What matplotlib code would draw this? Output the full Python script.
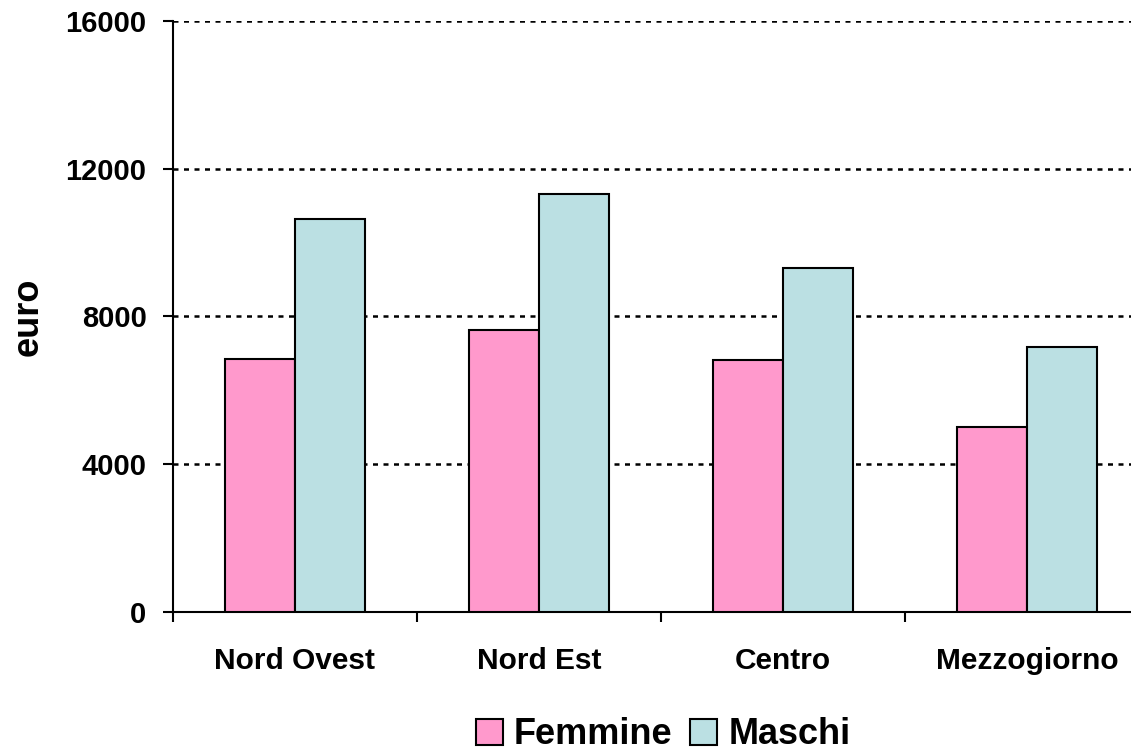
import matplotlib
matplotlib.use('Agg')
import matplotlib.pyplot as plt
import numpy as np

# values (euro)
regioni = ['Nord Ovest', 'Nord Est', 'Centro', 'Mezzogiorno']
femmine = [6850, 7630, 6820, 5010]
maschi = [10640, 11310, 9310, 7170]
yticks = [0, 4000, 8000, 12000, 16000]

plt.rcParams['font.family'] = ['Liberation Sans', 'DejaVu Sans']
plt.rcParams['font.weight'] = 'bold'

fig = plt.figure(figsize=(11.31, 7.51), dpi=100)
# axes runs a little past the right edge, as in the original
ax = fig.add_axes([173 / 1131, 1 - 612 / 751, (1149 - 173) / 1131, (612 - 20.7) / 751])

x = np.arange(len(regioni))
w = 70 / 244.0
ax.bar(x - w / 2, femmine, w, color='#FF99CC', edgecolor='black', linewidth=1.5,
       label='Femmine', zorder=3)
ax.bar(x + w / 2, maschi, w, color='#BBE0E3', edgecolor='black', linewidth=1.5,
       label='Maschi', zorder=3)

ax.set_xlim(-0.5, len(regioni) - 0.5)
ax.set_ylim(0, 16000)
ax.set_yticks(yticks)
ax.set_yticklabels([str(v) for v in yticks], fontsize=21, fontweight='bold')
ax.set_xticks(x)
ax.set_xticklabels(regioni, fontsize=21.5, fontweight='bold')
# category separators as ticks on the x axis
ax.set_xticks(np.arange(len(regioni) + 1) - 0.5, minor=True)
ax.tick_params(axis='x', which='minor', direction='out', length=7, width=1.5)
ax.tick_params(axis='x', which='major', length=0, pad=25)
ax.tick_params(axis='y', direction='out', length=7, width=1.5, pad=12)

for v in yticks[1:]:
    ax.axhline(v, color='black', linewidth=1.8, linestyle=(0, (2.0, 2.2)), zorder=1)

ax.spines['top'].set_visible(False)
ax.spines['right'].set_visible(False)
ax.spines['left'].set_linewidth(1.5)
ax.spines['bottom'].set_linewidth(1.5)

fig.text(28 / 1131, 1 - 317 / 751, 'euro', rotation=90, fontsize=26, fontweight='bold',
         ha='center', va='center')

fig.legend(loc='center', bbox_to_anchor=(663 / 1131, 1 - 735 / 751), ncol=2,
           frameon=False, prop={'size': 26, 'weight': 'bold'},
           handlelength=0.75, handleheight=0.75, handletextpad=0.3, columnspacing=0.5)

fig.savefig('out.png', dpi=100)
